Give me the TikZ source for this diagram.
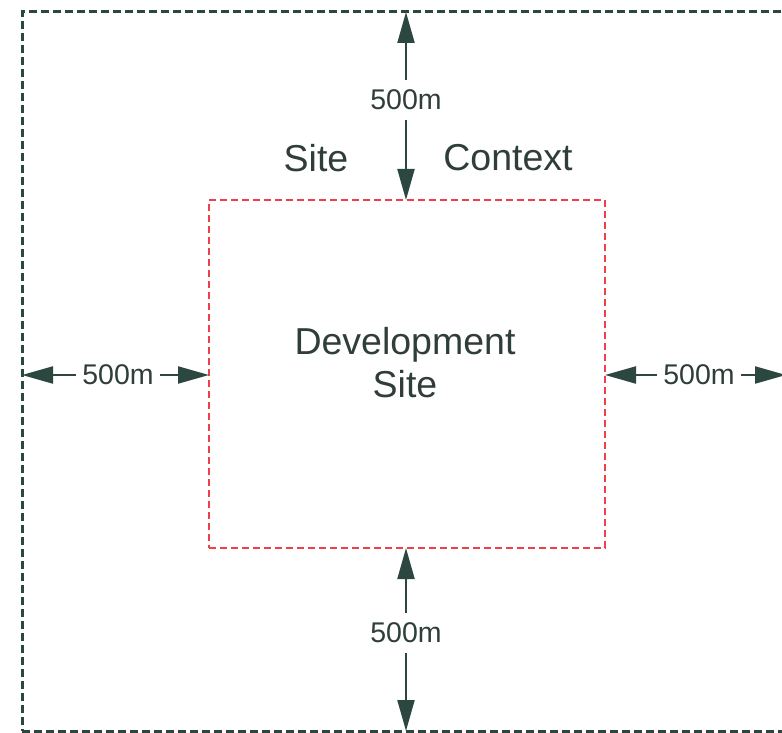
\documentclass[tikz,border=0pt]{standalone}
\usepackage{fontspec}
\setmainfont{Liberation Sans}
\usetikzlibrary{arrows.meta}
\usetikzlibrary{positioning}

\definecolor{contextgreen}{HTML}{2B4740}
\definecolor{sitered}{HTML}{EE3F4B}
\definecolor{labelgray}{HTML}{2F3E3A}

\begin{document}
\begin{tikzpicture}[
    x=1pt, y=-1pt,
    area/.style={rectangle, inner sep=0pt, outer sep=0pt},
    context/.style={area, draw=contextgreen, line width=3pt, dash pattern=on 8pt off 4pt},
    site/.style={area, draw=sitered, line width=2.5pt, dash pattern=on 7pt off 4pt},
    dist/.style={text=labelgray, font=\fontsize{28.5}{30}\selectfont, inner xsep=6pt, inner ysep=10pt},
    heading/.style={text=labelgray, font=\fontsize{37.5}{43}\selectfont, align=center},
    dimline/.style={draw=contextgreen, line width=2.2pt, -{Triangle[length=31pt, width=17pt]}}
]
    \useasboundingbox (0,0) rectangle (782,733);

    % --- Context boundary (right edge runs off the page)
    \node[context, minimum width=764pt, minimum height=719pt] (Ctx) at (404,371.5) {};
    \node[heading] (SiteWord) at (316,158) {Site};
    \node[heading] (CtxWord)  at (508,158) {Context};

    % --- Development site
    \node[site, minimum width=396pt, minimum height=348pt] (Dev) at (407,374) {};
    \node[heading] (DevName) at (405,363) {Development\\Site};

    % --- 500m offsets on each side
    \node[dist] (DistN) at (406,100) {500m};
    \node[dist] (DistS) at (406,633) {500m};
    \node[dist] (DistW) at (118,375) {500m};
    \node[dist] (DistE) at (699,375) {500m};

    \draw[dimline] (DistN.north) -- (DistN |- Ctx.north);
    \draw[dimline] (DistN.south) -- (DistN |- Dev.north);

    \draw[dimline] (DistS.north) -- (DistS |- Dev.south);
    \draw[dimline] (DistS.south) -- (DistS |- Ctx.south);

    \draw[dimline] (DistW.west) -- (DistW -| Ctx.west);
    \draw[dimline] (DistW.east) -- (DistW -| Dev.west);

    \draw[dimline] (DistE.west) -- (DistE -| Dev.east);
    \draw[dimline] (DistE.east) -- (DistE -| Ctx.east);

\end{tikzpicture}
\end{document}
